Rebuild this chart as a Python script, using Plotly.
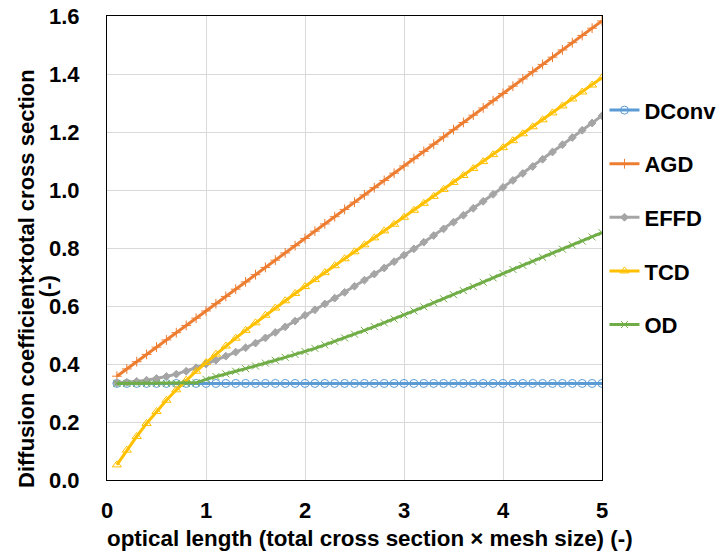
import plotly.graph_objects as go

x_vals = [0.1, 0.2, 0.3, 0.4, 0.5, 0.6, 0.7, 0.8, 0.9, 1.0,
          1.1, 1.2, 1.3, 1.4, 1.5, 1.6, 1.7, 1.8, 1.9, 2.0,
          2.1, 2.2, 2.3, 2.4, 2.5, 2.6, 2.7, 2.8, 2.9, 3.0,
          3.1, 3.2, 3.3, 3.4, 3.5, 3.6, 3.7, 3.8, 3.9, 4.0,
          4.1, 4.2, 4.3, 4.4, 4.5, 4.6, 4.7, 4.8, 4.9, 5.0]

dconv = [0.333, 0.333, 0.333, 0.333, 0.333, 0.333, 0.333, 0.333, 0.333, 0.333,
         0.333, 0.333, 0.333, 0.333, 0.333, 0.333, 0.333, 0.333, 0.333, 0.333,
         0.333, 0.333, 0.333, 0.333, 0.333, 0.333, 0.333, 0.333, 0.333, 0.333,
         0.333, 0.333, 0.333, 0.333, 0.333, 0.333, 0.333, 0.333, 0.333, 0.333,
         0.333, 0.333, 0.333, 0.333, 0.333, 0.333, 0.333, 0.333, 0.333, 0.333]

agd = [0.358, 0.383, 0.408, 0.433, 0.458, 0.483, 0.508, 0.533, 0.558, 0.583,
       0.608, 0.633, 0.658, 0.683, 0.708, 0.733, 0.758, 0.783, 0.808, 0.833,
       0.858, 0.883, 0.908, 0.933, 0.958, 0.983, 1.008, 1.033, 1.058, 1.083,
       1.108, 1.133, 1.158, 1.183, 1.208, 1.233, 1.258, 1.283, 1.308, 1.333,
       1.358, 1.383, 1.408, 1.433, 1.458, 1.483, 1.508, 1.533, 1.558, 1.583]

effd = [0.335, 0.337, 0.340, 0.344, 0.350, 0.357, 0.365, 0.375, 0.387, 0.400,
        0.413, 0.427, 0.441, 0.456, 0.472, 0.490, 0.509, 0.528, 0.548, 0.568,
        0.587, 0.607, 0.627, 0.647, 0.668, 0.689, 0.710, 0.731, 0.753, 0.775,
        0.797, 0.820, 0.843, 0.866, 0.889, 0.913, 0.937, 0.961, 0.985, 1.009,
        1.033, 1.057, 1.081, 1.106, 1.131, 1.156, 1.181, 1.206, 1.231, 1.256]

tcd = [0.052, 0.103, 0.150, 0.195, 0.236, 0.275, 0.311, 0.344, 0.375, 0.405,
       0.434, 0.462, 0.489, 0.516, 0.542, 0.568, 0.593, 0.618, 0.643, 0.667,
       0.691, 0.715, 0.739, 0.763, 0.787, 0.811, 0.835, 0.859, 0.882, 0.906,
       0.930, 0.954, 0.978, 1.002, 1.026, 1.050, 1.074, 1.098, 1.122, 1.146,
       1.170, 1.194, 1.218, 1.242, 1.266, 1.290, 1.314, 1.338, 1.362, 1.387]

od = [0.333, 0.333, 0.333, 0.333, 0.333, 0.333, 0.333, 0.333, 0.335, 0.347,
      0.357, 0.366, 0.375, 0.384, 0.393, 0.403, 0.413, 0.423, 0.433, 0.443,
      0.454, 0.466, 0.478, 0.490, 0.503, 0.516, 0.529, 0.542, 0.555, 0.569,
      0.583, 0.597, 0.611, 0.625, 0.639, 0.653, 0.667, 0.682, 0.697, 0.712,
      0.726, 0.740, 0.754, 0.768, 0.782, 0.796, 0.810, 0.824, 0.838, 0.853]

x_ticks = [0, 1, 2, 3, 4, 5]
y_ticks = [0.0, 0.2, 0.4, 0.6, 0.8, 1.0, 1.2, 1.4, 1.6]
y_tick_text = ["0.0", "0.2", "0.4", "0.6", "0.8", "1.0", "1.2", "1.4", "1.6"]

series = [
    ("DConv", dconv, "#5B9BD5", "circle-open", 8),
    ("AGD", agd, "#ED7D31", "cross-thin-open", 7),
    ("EFFD", effd, "#A5A5A5", "diamond", 6),
    ("TCD", tcd, "#FFC000", "triangle-up-open", 8),
    ("OD", od, "#70AD47", "x-thin-open", 7),
]

FONT = "Liberation Sans, Arial, sans-serif"

fig = go.Figure()
for name, vals, color, sym, size in series:
    fig.add_trace(go.Scatter(
        x=x_vals, y=vals, name=name, mode="lines+markers",
        legendgroup=name,
        line=dict(color=color, width=3),
        marker=dict(symbol=sym, size=size, color=color,
                    line=dict(color=color, width=1)),
    ))

fig.update_layout(
    width=723, height=555,
    margin=dict(l=107, r=121, t=16, b=75, autoexpand=False),
    paper_bgcolor="white", plot_bgcolor="white",
    font=dict(family=FONT, size=22, color="black", weight="bold"),
    showlegend=True,
    legend=dict(x=1.005, xanchor="left", y=0.842, yanchor="top",
                tracegroupgap=22, itemwidth=30,
                font=dict(family=FONT, size=22, color="black", weight="bold"),
                bgcolor="rgba(0,0,0,0)"),
    xaxis=dict(range=[0, 5], tickvals=x_ticks, showgrid=True,
               gridcolor="#D9D9D9", gridwidth=1, zeroline=False,
               showline=True, linecolor="black", linewidth=1, mirror=True,
               ticks="", ticklabelstandoff=11, automargin=False,
               tickfont=dict(family=FONT, size=22, color="black", weight="bold")),
    yaxis=dict(range=[0, 1.6], tickvals=y_ticks, ticktext=y_tick_text,
               showgrid=True, gridcolor="#D9D9D9", gridwidth=1, zeroline=False,
               showline=True, linecolor="black", linewidth=1, mirror=True,
               ticks="", ticklabelstandoff=22, automargin=False,
               tickfont=dict(family=FONT, size=22, color="black", weight="bold")),
    annotations=[
        dict(text="optical length (total cross section × mesh size) (-)",
             xref="paper", yref="paper", x=0.531, y=-0.127,
             xanchor="center", yanchor="middle", showarrow=False,
             font=dict(family=FONT, size=22.4, color="black", weight="bold")),
        dict(text="Diffusion coefficient×total cross section",
             xref="paper", yref="paper", x=-0.164, y=0.435, textangle=-90,
             xanchor="center", yanchor="middle", showarrow=False,
             font=dict(family=FONT, size=22, color="black", weight="bold")),
        dict(text="(-)",
             xref="paper", yref="paper", x=-0.121, y=0.418, textangle=-90,
             xanchor="center", yanchor="middle", showarrow=False,
             font=dict(family=FONT, size=22, color="black", weight="bold")),
    ],
)

fig.write_html("out.html")
